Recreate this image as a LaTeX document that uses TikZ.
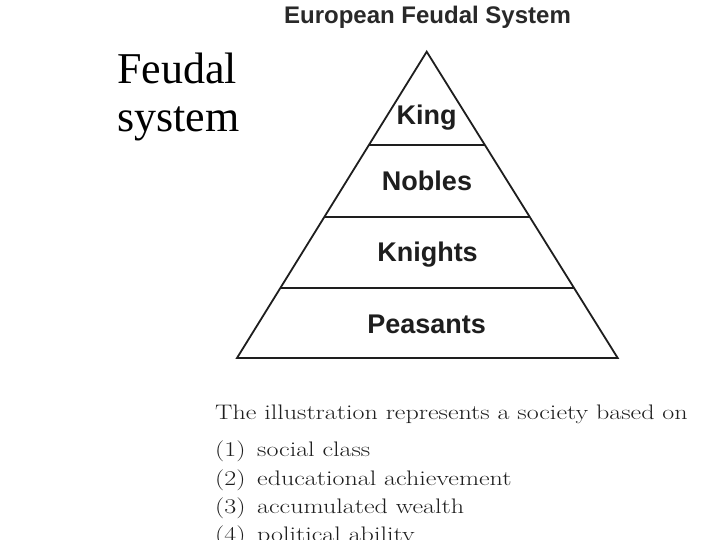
\documentclass[tikz,border=0pt]{standalone}
\usepackage{graphicx}
\usepackage{fontspec}
\newfontfamily\arialfont{Liberation Sans}
\newfontfamily\timesfont{Liberation Serif}
\usetikzlibrary{calc}
\definecolor{ink}{HTML}{1E1E1E}
\newcommand{\qwide}[1]{\scalebox{1.24}[1]{#1}}
\begin{document}
\begin{tikzpicture}[x=1pt,y=-1pt,
  layer/.style={font=\arialfont\bfseries\fontsize{27}{30}\selectfont, text=ink, anchor=base, inner sep=0pt},
  edge/.style={line width=1.8pt, draw=ink, line join=miter},
  qtext/.style={font=\fontsize{21}{24}\selectfont, text=ink, anchor=base west, inner sep=0pt}]
\useasboundingbox[fill=white] (0,0) rectangle (720,540);
% title
\node[font=\arialfont\bfseries\fontsize{24}{28}\selectfont, text=ink!95!white, anchor=base, inner sep=0pt] (title) at (427.5,24) {European Feudal System};
% slide heading
\node[font=\timesfont\fontsize{44}{49}\selectfont, anchor=base west, inner sep=0pt] (head1) at (117,83.3) {Feudal};
\node[font=\timesfont\fontsize{44}{49}\selectfont, anchor=base west, inner sep=0pt] (head2) at (117,132) {system};
% pyramid
\coordinate (apex) at (426.7,51.7);
\coordinate (bl) at (237,358);
\coordinate (br) at (617.7,358);
\draw[edge] (apex) -- (bl) -- (br) -- cycle;
\coordinate (l1) at ($(apex)!0.3046!(bl)$);
\coordinate (r1) at ($(apex)!0.3046!(br)$);
\coordinate (l2) at ($(apex)!0.5387!(bl)$);
\coordinate (r2) at ($(apex)!0.5387!(br)$);
\coordinate (l3) at ($(apex)!0.7705!(bl)$);
\coordinate (r3) at ($(apex)!0.7705!(br)$);
\draw[edge] (l1) -- (r1);
\draw[edge] (l2) -- (r2);
\draw[edge] (l3) -- (r3);
\node[layer] (king) at (426.7,125) {King};
\node[layer] (nobles) at (427,190.7) {Nobles};
\node[layer] (knights) at (427.5,261.7) {Knights};
\node[layer] (peasants) at (426.7,333.3) {Peasants};
% question
\node[qtext] (q) at (215,419) {\qwide{The illustration represents a society based on}};
\node[qtext] (n1) at (215,456.7) {\qwide{(1)}};
\node[qtext] (a1) at (257,456.7) {\qwide{social class}};
\node[qtext] (n2) at (215,485) {\qwide{(2)}};
\node[qtext] (a2) at (257,485) {\qwide{educational achievement}};
\node[qtext] (n3) at (215,513.3) {\qwide{(3)}};
\node[qtext] (a3) at (257,513.3) {\qwide{accumulated wealth}};
\node[qtext] (n4) at (215,541.7) {\qwide{(4)}};
\node[qtext] (a4) at (257,541.7) {\qwide{political ability}};
\end{tikzpicture}
\end{document}
